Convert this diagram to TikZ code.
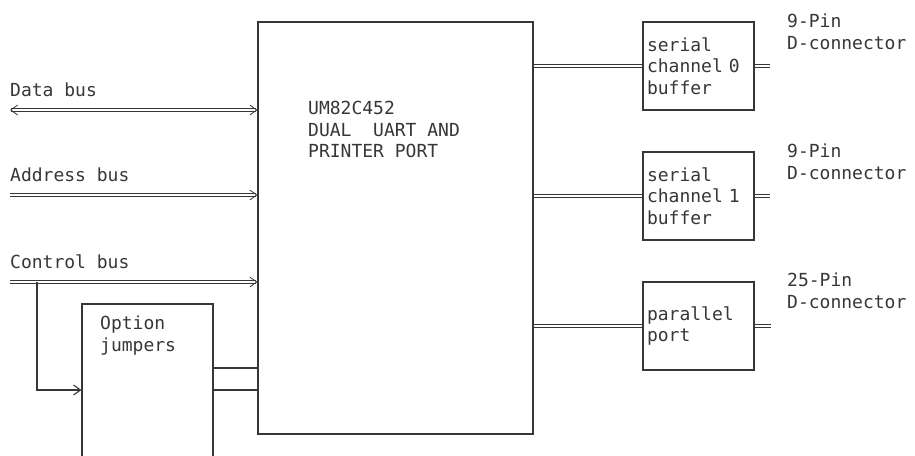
\documentclass[tikz,border=0pt]{standalone}
\usepackage{fontspec}
\setmonofont{DejaVu Sans Mono}
\usetikzlibrary{arrows.meta,positioning}
\definecolor{ink}{RGB}{55,55,55}
\begin{document}
\begin{tikzpicture}[x=1pt,y=-1pt]
  \tikzset{
    blk/.style={draw=ink, line width=1.1pt, fill=white, inner sep=0pt},
    lbl/.style={font=\ttfamily\fontsize{18}{21.5}\selectfont, text=ink, align=left, inner sep=0pt},
    buf/.style={blk, lbl, minimum width=111, minimum height=88, text width=103},
    bus/.style={draw=ink, double=white, double distance=2pt, line width=0.8pt},
    link/.style={draw=ink, line width=1.1pt},
    tip/.style={-{Straight Barb[length=7pt,width=10pt]}},
    tips/.style={{Straight Barb[length=7pt,width=10pt]}-{Straight Barb[length=7pt,width=10pt]}}
  }
  \useasboundingbox (0,0) rectangle (915,455);
  \clip (0,0) rectangle (915,455);

  % Blocks
  \node[blk, minimum width=275, minimum height=412] (uart) at (395.5,228) {};
  \node[lbl, anchor=north west] (uartlbl) at (308,101) {UM82C452\\DUAL~ UART AND\\PRINTER PORT};
  \node[blk, minimum width=131, minimum height=172] (opt) at (147.5,390) {};
  \node[lbl, anchor=north west] (optlbl) at (100,316) {Option\\jumpers};

  \node[buf] (buf0) at (698.5,66) {serial\\channel 0\\buffer};
  \node[buf] (buf1) at (698.5,196) {serial\\channel 1\\buffer};
  \node[buf] (par) at (698.5,326) {parallel\\port\\[-4pt]};

  % Bus labels
  \node[lbl, anchor=west] (dbus) at (10,90) {Data bus};
  \node[lbl, anchor=west] (abus) at (10,175) {Address bus};
  \node[lbl, anchor=west] (cbus) at (10,262) {Control bus};

  % Connector labels
  \node[lbl, anchor=west] (con0lbl) at (787,32) {9-Pin\\D-connector};
  \node[lbl, anchor=west] (con1lbl) at (787,162) {9-Pin\\D-connector};
  \node[lbl, anchor=west] (conplbl) at (787,291) {25-Pin\\D-connector};

  % Buses into the UART
  \coordinate (dbL) at (10,110);
  \coordinate (abL) at (10,195);
  \coordinate (cbL) at (10,282);
  \coordinate (cbT) at (37,282);
  \draw[bus, tips] (dbL) -- (dbL -| uart.west);
  \draw[bus, tip] (abL) -- (abL -| uart.west);
  \draw[bus, tip] (cbL) -- (cbL -| uart.west);

  % Option jumpers
  \draw[link, tip] (cbT) |- (opt.west);
  \draw[link] ([yshift=22pt]opt.east) -- ([yshift=22pt]opt.east -| uart.west);
  \draw[link] (opt.east) -- (opt.east -| uart.west);

  % UART to buffers
  \draw[bus] (buf0.west -| uart.east) -- (buf0.west);
  \draw[bus] (buf1.west -| uart.east) -- (buf1.west);
  \draw[bus] (par.west -| uart.east) -- (par.west);

  % Buffers to connectors
  \coordinate (con0) at (770,66);
  \coordinate (con1) at (770,196);
  \coordinate (conp) at (771,326);
  \draw[bus] (buf0.east) -- (con0);
  \draw[bus] (buf1.east) -- (con1);
  \draw[bus] (par.east) -- (conp);
\end{tikzpicture}
\end{document}
